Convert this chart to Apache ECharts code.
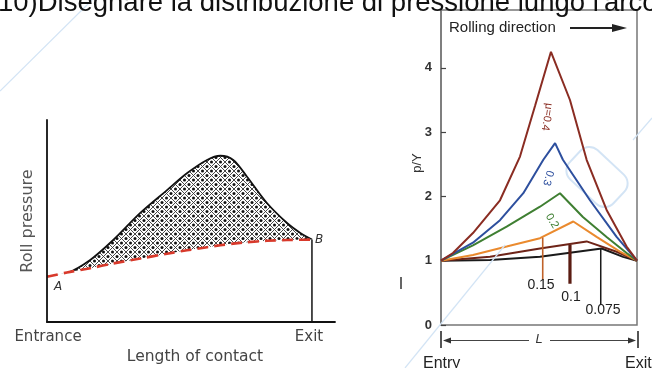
<!DOCTYPE html>
<html><head><meta charset="utf-8">
<script src="https://cdn.jsdelivr.net/npm/echarts@6/dist/echarts.min.js"></script>
<style>html,body{margin:0;padding:0;background:#fff}#c{width:652px;height:368px}</style>
</head><body><div id="c"></div>
<script>
// ---------- Left panel (schematic, arbitrary units) ----------
const contactX      = [0, 0.075, 0.163, 0.25, 0.352, 0.453, 0.528, 0.604, 0.654, 0.703, 0.755, 0.830, 0.906, 0.956, 1];
const rollPressure  = [2.24, 2.41, 3.07, 4.06, 5.40, 6.53, 7.36, 8.02, 8.23, 8.02, 7.19, 5.89, 4.90, 4.41, 4.08];
const flowStress    = [2.24, 2.45, 2.66, 2.90, 3.14, 3.38, 3.55, 3.70, 3.80, 3.88, 3.95, 4.02, 4.06, 4.07, 4.08];

// ---------- Right panel: p/Y along contact length (0 = entry, 1 = exit) ----------
const frictionLabels = ['μ=0.4', '0.3', '0.2', '0.15', '0.1', '0.075'];
const mu040 = [[0,1],[0.061,1.12],[0.163,1.43],[0.301,1.94],[0.403,2.62],[0.480,3.41],[0.561,4.25],[0.658,3.50],[0.743,2.57],[0.845,1.79],[0.947,1.22],[1,1]];
const mu030 = [[0,1],[0.163,1.28],[0.301,1.63],[0.420,2.05],[0.522,2.57],[0.582,2.83],[0.622,2.57],[0.760,1.94],[0.896,1.37],[1,1]];
const mu020 = [[0,1],[0.163,1.24],[0.335,1.53],[0.505,1.84],[0.607,2.05],[0.724,1.68],[0.845,1.37],[0.947,1.12],[1,1]];
const mu015 = [[0,1],[0.163,1.09],[0.335,1.22],[0.505,1.35],[0.675,1.61],[0.794,1.37],[0.913,1.14],[1,1]];
const mu010 = [[0,1],[0.25,1.06],[0.505,1.19],[0.743,1.30],[0.896,1.14],[1,1]];
const mu0075 = [[0,1],[0.25,1.01],[0.505,1.06],[0.820,1.19],[0.929,1.06],[1,1]];
const leader015  = [[0.519,1.36],[0.519,0.70]];
const leader010  = [[0.658,1.25],[0.658,0.64]];
const leader0075 = [[0.815,1.19],[0.815,0.31]];
const yTicks = [0, 1, 2, 3, 4];

const curveColors = ['#8a2c22', '#2d4f9e', '#3f7f32', '#ea8a2e', '#6e2418', '#1a1a1a'];

// crosshatch pattern
const pc = document.createElement('canvas');
pc.width = 9; pc.height = 9;
const g = pc.getContext('2d');
g.fillStyle = '#fff'; g.fillRect(0,0,9,9);
g.strokeStyle = '#333'; g.lineWidth = 0.9;
g.beginPath(); g.moveTo(-1,-1); g.lineTo(10,10); g.moveTo(10,-1); g.lineTo(-1,10); g.stroke();
g.fillStyle = '#111';
[[4.5,0],[0,4.5],[9,4.5],[4.5,9]].forEach(p => { g.beginPath(); g.arc(p[0], p[1], 1.5, 0, Math.PI*2); g.fill(); });

const chart = echarts.init(document.getElementById('c'), null, {renderer: 'canvas'});
const FONT = '"Liberation Sans", Arial, sans-serif';
const SCAN = '"DejaVu Sans", sans-serif';
const wm = '#d3e4f5';

function txt(text, x, y, opt) {
  opt = opt || {};
  return {type: 'text', x: x, y: y, rotation: opt.rot || 0, z: 50,
    style: {text: text, font: opt.font || ('13px ' + FONT), fill: opt.fill || '#222',
      align: opt.align || 'center', verticalAlign: opt.va || 'middle',
      textAlign: opt.align || 'center', textVerticalAlign: opt.va || 'middle'}};
}
function seg(x1, y1, x2, y2, color, w) {
  return {type: 'line', z: 40, shape: {x1: x1, y1: y1, x2: x2, y2: y2}, style: {stroke: color, lineWidth: w}};
}

const rightSets = [mu040, mu030, mu020, mu015, mu010, mu0075];

chart.setOption({
  animation: false,
  backgroundColor: '#fff',
  grid: [
    {left: 47, top: 120, width: 288, height: 202, show: false},
    {left: 441, top: 10, width: 196, height: 315, show: true, borderColor: '#777', borderWidth: 1.5, backgroundColor: 'transparent'}
  ],
  xAxis: [
    {gridIndex: 0, type: 'value', min: 0, max: 1.087, z: 10,
      axisLine: {show: true, lineStyle: {color: '#111', width: 1.8}}, axisTick: {show: false}, axisLabel: {show: false}, splitLine: {show: false}},
    {gridIndex: 1, type: 'value', min: 0, max: 1,
      axisLine: {show: false}, axisTick: {show: false}, axisLabel: {show: false}, splitLine: {show: false}}
  ],
  yAxis: [
    {gridIndex: 0, type: 'value', min: 0, max: 10, z: 10,
      axisLine: {show: true, lineStyle: {color: '#111', width: 1.8}}, axisTick: {show: false}, axisLabel: {show: false}, splitLine: {show: false}},
    {gridIndex: 1, type: 'value', min: 0, max: 4.9,
      axisLine: {show: true, lineStyle: {color: '#777', width: 1.5}},
      axisTick: {show: true, inside: true, length: 5, customValues: yTicks, lineStyle: {color: '#444', width: 1.2}},
      axisLabel: {show: true, customValues: yTicks, margin: 9, fontSize: 13, fontWeight: 'bold', color: '#333', fontFamily: FONT},
      splitLine: {show: false}}
  ],
  series: [
    {type: 'line', xAxisIndex: 0, yAxisIndex: 0, z: 2, symbol: 'none', smooth: 0.3,
      data: contactX.map((x, i) => [x, rollPressure[i]]),
      lineStyle: {color: '#111', width: 1.8},
      areaStyle: {color: {image: pc, repeat: 'repeat'}, opacity: 1}},
    {type: 'line', xAxisIndex: 0, yAxisIndex: 0, z: 3, symbol: 'none', smooth: 0.3,
      data: contactX.map((x, i) => [x, flowStress[i]]),
      lineStyle: {color: '#d8392b', width: 2.6, type: [11, 6]},
      areaStyle: {color: '#fff', opacity: 1}},
    {type: 'line', xAxisIndex: 0, yAxisIndex: 0, z: 4, symbol: 'none',
      data: [[contactX[contactX.length - 1], 0], [contactX[contactX.length - 1], flowStress[flowStress.length - 1]]],
      lineStyle: {color: '#222', width: 1.6}}
  ].concat(rightSets.map((d, i) => ({
    type: 'line', xAxisIndex: 1, yAxisIndex: 1, z: 5 + (6 - i), symbol: 'none', data: d,
    lineStyle: {color: curveColors[i], width: 2}
  }))).concat([
    {type: 'line', xAxisIndex: 1, yAxisIndex: 1, z: 12, symbol: 'none', data: leader015, lineStyle: {color: '#c0622a', width: 1.6}},
    {type: 'line', xAxisIndex: 1, yAxisIndex: 1, z: 12, symbol: 'none', data: leader010, lineStyle: {color: '#5a1c12', width: 3.2}},
    {type: 'line', xAxisIndex: 1, yAxisIndex: 1, z: 12, symbol: 'none', data: leader0075, lineStyle: {color: '#1a1a1a', width: 1.5}}
  ]),
  graphic: [
    // watermark
    seg(0, 91, 92, 0, wm, 1.2),
    seg(405, 368, 505, 245, wm, 1.2),
    seg(633, 140, 652, 118, wm, 1.2),
    {type: 'rect', x: 597, y: 177, rotation: -0.75, z: 1, shape: {x: -30, y: -20, width: 60, height: 40, r: 12},
      style: {fill: 'none', stroke: wm, lineWidth: 2}},
    // title (cut at top)
    txt("10)Disegnare la distribuzione di pressione lungo l'arco", -2, 3, {font: '27.5px ' + FONT, fill: '#111', align: 'left'}),
    // left panel texts
    txt('Roll pressure', 28, 221, {font: '16px ' + SCAN, fill: '#555', rot: Math.PI / 2}),
    txt('Entrance', 48, 337, {font: '15px ' + SCAN, fill: '#444'}),
    txt('Exit', 309, 337, {font: '15px ' + SCAN, fill: '#444'}),
    txt('Length of contact', 195, 357, {font: '15.5px ' + SCAN, fill: '#444'}),
    txt('A', 58, 287, {font: 'italic 12px ' + SCAN, fill: '#333'}),
    txt('B', 319, 240, {font: 'italic 12px ' + SCAN, fill: '#333'}),
    // right panel texts
    txt('Rolling direction', 449, 28, {font: '15px ' + FONT, fill: '#222', align: 'left'}),
    seg(570, 28, 614, 28, '#222', 2),
    {type: 'polygon', z: 40, shape: {points: [[612, 24], [627, 28], [612, 32]]}, style: {fill: '#222'}},
    txt('p/Y', 417, 163, {font: '13px ' + FONT, fill: '#333', rot: Math.PI / 2}),
    seg(401, 277, 401, 289, '#333', 1.5),
    txt(frictionLabels[0], 547, 117, {font: '11px ' + FONT, fill: curveColors[0], rot: -1.72}),
    txt(frictionLabels[1], 548, 178, {font: '11px ' + FONT, fill: curveColors[1], rot: -1.85}),
    txt(frictionLabels[2], 552, 221, {font: '11px ' + FONT, fill: curveColors[2], rot: -1.05}),
    txt(frictionLabels[3], 541, 285, {font: '14px ' + FONT, fill: '#222'}),
    txt(frictionLabels[4], 571, 297, {font: '14px ' + FONT, fill: '#222'}),
    txt(frictionLabels[5], 603, 310, {font: '14px ' + FONT, fill: '#222'}),
    // L dimension
    seg(441, 331, 441, 348, '#555', 2),
    seg(638, 331, 638, 348, '#555', 2),
    seg(446, 340.5, 529, 340.5, '#444', 1.2),
    seg(550, 340.5, 633, 340.5, '#444', 1.2),
    {type: 'polygon', z: 40, shape: {points: [[443, 340.5], [451, 337.5], [451, 343.5]]}, style: {fill: '#333'}},
    {type: 'polygon', z: 40, shape: {points: [[636, 340.5], [628, 337.5], [628, 343.5]]}, style: {fill: '#333'}},
    txt('L', 539, 339, {font: 'italic 13px ' + FONT, fill: '#333'}),
    txt('Entry', 423, 364, {font: '16px ' + FONT, fill: '#222', align: 'left'}),
    txt('Exit', 625, 364, {font: '16px ' + FONT, fill: '#222', align: 'left'})
  ]
});
</script>
</body></html>
